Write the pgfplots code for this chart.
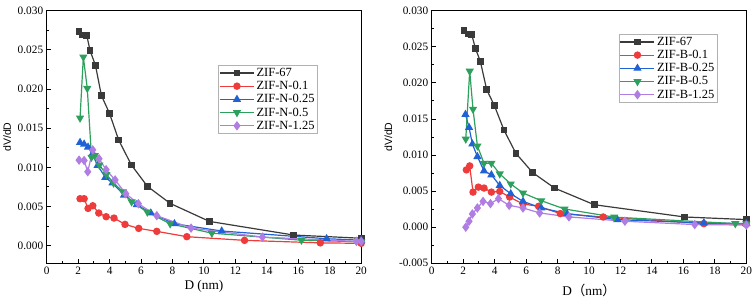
\documentclass[border=0pt]{standalone}
\usepackage{pgfplots}
\pgfplotsset{compat=1.18}
\usepackage{fontspec}
\setmainfont{Liberation Serif}
\newfontfamily\arialfont{Liberation Sans}
\newfontfamily\cjk{Noto Sans CJK SC}
\definecolor{cK}{HTML}{3A3A3A}
\definecolor{cR}{HTML}{EE3B3B}
\definecolor{cB}{HTML}{1F62D6}
\definecolor{cG}{HTML}{2EA05E}
\definecolor{cP}{HTML}{B07DE3}
\pgfplotsset{
  myax/.style={
    scale only axis, anchor=south west,
    width=314.5pt, height=252.5pt,
    xmin=0, xmax=20, xtick={0,2,...,20}, minor x tick num=1,
    minor y tick num=1,
    tick align=inside, xtick pos=bottom, ytick pos=left,
    major tick length=4pt, minor tick length=2.2pt,
    axis line style={line width=1.1pt}, every tick/.style={line width=1pt, black},
    tick label style={font=\fontsize{11.3}{12}\selectfont},
    /pgf/number format/assume math mode=true,
    yticklabel style={/pgf/number format/.cd, fixed, fixed zerofill, precision=3},
    scaled y ticks=false,
    xticklabel style={/pgf/number format/.cd, fixed, precision=0},
    legend cell align=left,
    legend style={font=\fontsize{12.5}{13}\selectfont, draw=gray!60, line width=0.5pt,
      inner sep=1pt, row sep=-0.6pt, anchor=north west},
    legend image code/.code={\draw[mark repeat=2,mark phase=2] plot coordinates {(0pt,0pt) (17pt,0pt) (34pt,0pt)};},
    every axis plot/.append style={line width=1.2pt},
  },
  sK/.style={cK, mark=square*, mark size=2.7pt, mark options={fill=cK}},
  sR/.style={cR, mark=*, mark size=3.1pt, mark options={fill=cR}},
  sB/.style={cB, mark=triangle*, mark size=3.6pt, mark options={fill=cB}},
  sG/.style={cG, mark=triangle*, mark size=3.6pt, mark options={fill=cG, rotate=180}},
  sP/.style={cP, mark=diamond*, mark size=3.8pt, mark options={fill=cP}},
}
\begin{document}
\begin{tikzpicture}
\path[use as bounding box] (0,0) rectangle (754pt,300pt);
\begin{axis}[myax, at={(46.7pt,36.7pt)},
  ymin=-0.00225, ymax=0.030, ytick={0,0.005,0.010,0.015,0.020,0.025,0.030},
  minor ytick={0.0025,0.0075,0.0125,0.0175,0.0225,0.0275},
  xlabel={D (nm)}, ylabel={\arialfont dV/dD},
  xlabel style={font=\fontsize{13.3}{14}\selectfont, at={(0.5,0)}, anchor=north, yshift=-13pt},
  ylabel style={font=\fontsize{10.5}{12}\selectfont},
  legend style={at={(0.545,0.786)}},
]
\addplot[sK] coordinates {(2.06,0.02734) (2.29,0.02691) (2.55,0.02683) (2.76,0.02491) (3.10,0.02304) (3.48,0.01917) (3.99,0.01692) (4.58,0.01348) (5.39,0.01029) (6.41,0.00757) (7.85,0.00540) (10.35,0.00310) (15.7,0.00136) (20,0.00095)};
\addlegendentry{ZIF-67}
\addplot[sR] coordinates {(2.12,0.0060) (2.38,0.0060) (2.63,0.00476) (2.93,0.0051) (3.31,0.00417) (3.78,0.0037) (4.28,0.00353) (4.98,0.00272) (5.85,0.00221) (7.0,0.00183) (8.91,0.00115) (12.58,0.00068) (17.4,0.00036) (20,0.0003)};
\addlegendentry{ZIF-N-0.1}
\addplot[sB] coordinates {(2.12,0.01318) (2.38,0.01297) (2.63,0.01259) (2.9,0.0117) (3.24,0.01025) (3.73,0.00872) (4.18,0.0080) (4.92,0.00646) (5.73,0.00523) (6.62,0.00417) (8.12,0.0028) (11.13,0.00187) (17.8,0.00089) (20,0.0007)};
\addlegendentry{ZIF-N-0.25}
\addplot[sG] coordinates {(2.12,0.0163) (2.33,0.0241) (2.58,0.0201) (2.85,0.0113) (3.05,0.0115) (3.35,0.0103) (3.8,0.0091) (4.25,0.0080) (4.85,0.0069) (5.4,0.0056) (6.4,0.0043) (7.85,0.0028) (10.5,0.0016) (16.2,0.0007) (20,0.0005)};
\addlegendentry{ZIF-N-0.5}
\addplot[sP] coordinates {(2.06,0.01093) (2.38,0.01088) (2.61,0.00944) (2.93,0.01224) (3.33,0.0111) (3.78,0.0097) (4.35,0.0084) (5.03,0.00663) (5.83,0.00536) (7.0,0.00383) (9.18,0.00225) (13.72,0.0011) (19.7,0.00055) (20,0.00054)};
\addlegendentry{ZIF-N-1.25}
\end{axis}
\begin{axis}[myax, at={(431.8pt,36.7pt)},
  ymin=-0.005, ymax=0.030, ytick={-0.005,0,0.005,0.010,0.015,0.020,0.025,0.030},
  minor ytick={-0.0025,0.0025,0.0075,0.0125,0.0175,0.0225,0.0275},
  xlabel={D{\cjk （}nm{\cjk ）}}, ylabel={\arialfont dV/dD},
  xlabel style={font=\fontsize{13.3}{14}\selectfont, at={(0.5,0)}, anchor=north, yshift=-17pt},
  ylabel style={font=\fontsize{10.5}{12}\selectfont},
  legend style={at={(0.594,0.909)}},
]
\addplot[sK] coordinates {(2.05,0.02724) (2.31,0.02678) (2.54,0.0267) (2.77,0.02481) (3.09,0.02297) (3.49,0.01907) (3.98,0.01686) (4.59,0.01346) (5.35,0.01024) (6.41,0.00758) (7.81,0.00542) (10.33,0.00312) (16.08,0.00142) (20,0.00106)};
\addlegendentry{ZIF-67}
\addplot[sR] coordinates {(2.2,0.00795) (2.41,0.0085) (2.62,0.00487) (2.96,0.00556) (3.32,0.00543) (3.79,0.00487) (4.32,0.00496) (4.95,0.00418) (5.8,0.00322) (6.79,0.0029) (8.17,0.00189) (10.9,0.00142) (17.3,0.0005) (20,0.0004)};
\addlegendentry{ZIF-B-0.1}
\addplot[sB] coordinates {(2.14,0.01563) (2.37,0.01383) (2.58,0.01153) (2.9,0.00979) (3.32,0.00781) (3.79,0.00726) (4.32,0.00579) (5.02,0.00464) (5.8,0.00358) (6.96,0.00267) (8.6,0.00189) (11.8,0.00105) (17.3,0.0006) (20,0.0005)};
\addlegendentry{ZIF-B-0.25}
\addplot[sG] coordinates {(2.16,0.01222) (2.41,0.02164) (2.62,0.01636) (2.9,0.01126) (3.32,0.00887) (3.79,0.00887) (4.32,0.0074) (5.02,0.006) (5.8,0.00474) (6.96,0.00368) (8.44,0.00253) (11.6,0.0014) (19.3,0.0005) (20,0.00048)};
\addlegendentry{ZIF-B-0.5}
\addplot[sP] coordinates {(2.16,0) (2.37,0.00083) (2.58,0.00184) (2.9,0.00267) (3.26,0.00358) (3.73,0.00327) (4.24,0.00396) (4.92,0.00303) (5.8,0.00267) (6.86,0.00198) (8.72,0.00143) (12.28,0.00083) (16.72,0.00037) (20,0.0003)};
\addlegendentry{ZIF-B-1.25}
\end{axis}
\end{tikzpicture}
\end{document}
